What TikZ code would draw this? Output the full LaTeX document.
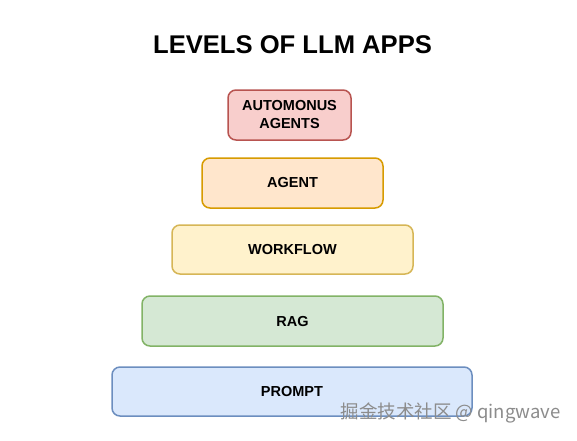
\documentclass[tikz,border=0pt]{standalone}
\usepackage{fontspec}
\setmainfont{Liberation Sans}
\newfontfamily\cjk{Noto Sans CJK SC}
\definecolor{redfill}{HTML}{F8CECC}
\definecolor{redline}{HTML}{B85450}
\definecolor{orangefill}{HTML}{FFE6CC}
\definecolor{orangeline}{HTML}{D79B00}
\definecolor{yellowfill}{HTML}{FFF2CC}
\definecolor{yellowline}{HTML}{D6B656}
\definecolor{greenfill}{HTML}{D5E8D4}
\definecolor{greenline}{HTML}{82B366}
\definecolor{bluefill}{HTML}{DAE8FC}
\definecolor{blueline}{HTML}{6C8EBF}
\definecolor{markgray}{HTML}{8C8C8C}
\begin{document}
\begin{tikzpicture}[x=1pt,y=-1pt,
    level/.style={draw, line width=1.5pt, rounded corners=8pt, minimum height=50pt,
      inner sep=0pt, align=center, font=\fontsize{14.5}{18}\selectfont\bfseries}]
    \fill[white] (0,0) rectangle (577,440);
    \useasboundingbox (0,0) rectangle (577,440);
    \node[font=\fontsize{25.6}{30}\selectfont\bfseries] (title) at (292.5,45) {LEVELS OF LLM APPS};
    % pyramid, top to bottom
    \node[level, fill=redfill, draw=redline, minimum width=123pt] (auto) at (289.5,115) {AUTOMONUS\\AGENTS};
    \node[level, fill=orangefill, draw=orangeline, minimum width=181pt] (agent) at (292.5,183) {AGENT};
    \node[level, fill=yellowfill, draw=yellowline, minimum width=241pt, minimum height=49pt] (workflow) at (292.5,249.5) {WORKFLOW};
    \node[level, fill=greenfill, draw=greenline, minimum width=301pt] (rag) at (292.5,321) {RAG};
    \node[level, fill=bluefill, draw=blueline, minimum width=360pt, minimum height=49pt] (prompt) at (292,391.5) {PROMPT};
    % watermark
    \node[text=markgray, anchor=east, font=\fontsize{18.5}{20}\selectfont\cjk] (mark) at (564,413) {掘金技术社区 @ qingwave};
\end{tikzpicture}
\end{document}
